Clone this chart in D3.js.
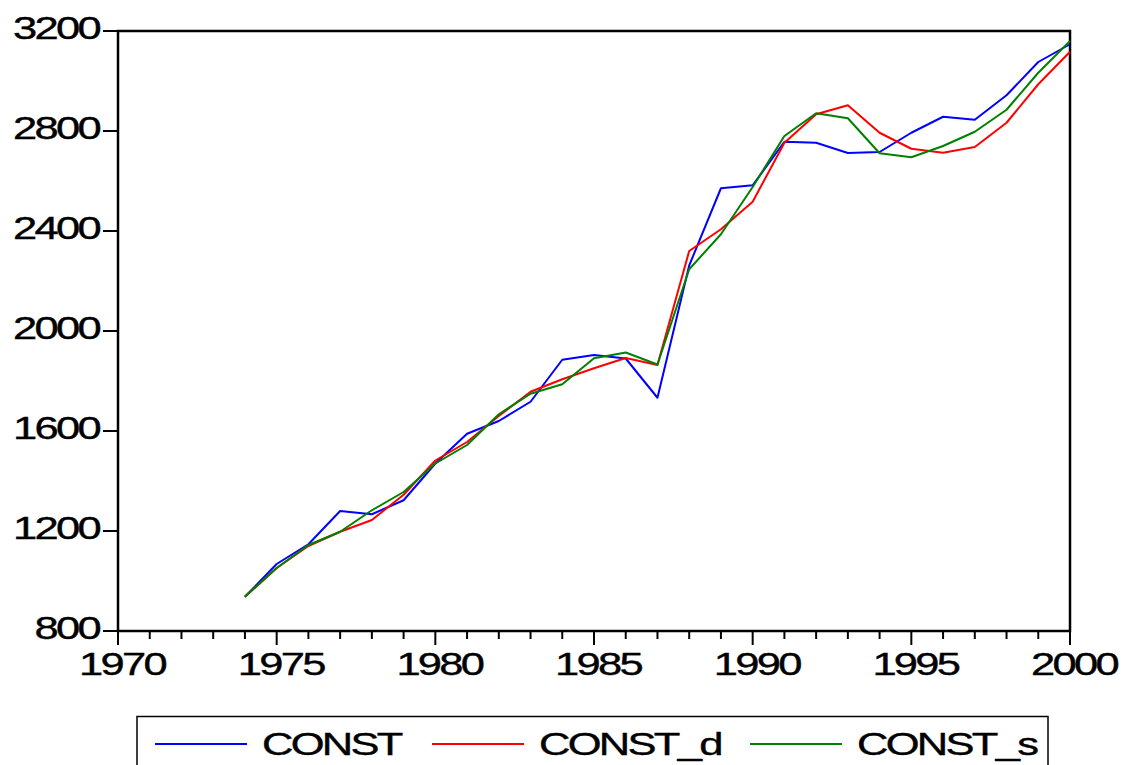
<!DOCTYPE html>
<html>
<head>
<meta charset="utf-8">
<script src="https://cdn.jsdelivr.net/npm/d3@7"></script>
<style>
  body { margin: 0; background: #fff; }
  text { font-family: "Liberation Sans", Arial, sans-serif; fill: #000; stroke: #000; stroke-width: 0.4px; letter-spacing: -2px; }
</style>
</head>
<body>
<div id="vis"></div>
<script>
// data
const years = [1974, 1975, 1976, 1977, 1978, 1979, 1980, 1981, 1982, 1983, 1984, 1985, 1986, 1987,
               1988, 1989, 1990, 1991, 1992, 1993, 1994, 1995, 1996, 1997, 1998, 1999, 2000];
const constVals = [937, 1068, 1147, 1280, 1267, 1323, 1470, 1589, 1640, 1717, 1885, 1904, 1890, 1733,
                   2262, 2571, 2583, 2757, 2753, 2712, 2716, 2793, 2857, 2845, 2943, 3076, 3147];
const constD = [937, 1052, 1140, 1197, 1244, 1345, 1482, 1556, 1660, 1757, 1807, 1851, 1892, 1864,
                2320, 2407, 2517, 2753, 2867, 2903, 2793, 2729, 2713, 2736, 2833, 2987, 3117];
const constS = [937, 1052, 1144, 1197, 1283, 1356, 1470, 1544, 1667, 1749, 1787, 1891, 1914, 1866,
                2247, 2387, 2576, 2780, 2871, 2851, 2711, 2695, 2740, 2797, 2885, 3033, 3160];
const seriesNames = ['CONST', 'CONST_d', 'CONST_s'];
const seriesColors = ['#0000ff', '#ff0000', '#008000'];
const yTicks = [800, 1200, 1600, 2000, 2400, 2800, 3200];
const xMajor = [1970, 1975, 1980, 1985, 1990, 1995, 2000];

// layout
const margin = { top: 31, right: 52, bottom: 134, left: 118 };
const width = 1122 - margin.left - margin.right;
const height = 765 - margin.top - margin.bottom;
const stretch = 1.36;

const svgRoot = d3.select('#vis')
    .append('svg')
    .attr('width', 1122)
    .attr('height', 765);

const svg = svgRoot.append('g')
    .attr('transform', `translate(${margin.left},${margin.top})`);

// scales
const xScale = d3.scaleLinear()
    .domain([1970, 2000])
    .range([0, width]);

const yScale = d3.scaleLinear()
    .domain([800, 3200])
    .range([height, 0]);

// frame
svg.append('rect')
    .attr('x', 0).attr('y', 0)
    .attr('width', width).attr('height', height)
    .attr('fill', 'none')
    .attr('stroke', '#000')
    .attr('stroke-width', 2.5);

// y axis ticks + labels
const yAxis = svg.append('g').attr('class', 'y-axis');
yAxis.selectAll('line')
    .data(yTicks)
    .join('line')
    .attr('x1', -15).attr('x2', 0)
    .attr('y1', d => yScale(d)).attr('y2', d => yScale(d))
    .attr('stroke', '#000').attr('stroke-width', 2);
yAxis.selectAll('text')
    .data(yTicks)
    .join('text')
    .attr('transform', d => `translate(-19,${yScale(d) + 7.5}) scale(${stretch},1)`)
    .attr('text-anchor', 'end')
    .style('font-size', '32px')
    .text(d => d);

// x axis ticks (yearly) + labels
const xAxis = svg.append('g').attr('class', 'x-axis').attr('transform', `translate(0,${height})`);
xAxis.selectAll('line')
    .data(d3.range(1970, 2001))
    .join('line')
    .attr('x1', d => xScale(d)).attr('x2', d => xScale(d))
    .attr('y1', 0)
    .attr('y2', d => d % 5 === 0 ? 14 : 8)
    .attr('stroke', '#000').attr('stroke-width', 2);
xAxis.selectAll('text')
    .data(xMajor)
    .join('text')
    .attr('transform', d => `translate(${xScale(d) + 4},44) scale(${stretch},1)`)
    .attr('text-anchor', 'middle')
    .style('font-size', '32px')
    .text(d => d);

// lines
const allSeries = [constVals, constD, constS];
const line = d3.line()
    .x((d, i) => xScale(years[i]))
    .y(d => yScale(d));

svg.selectAll('.series')
    .data(allSeries)
    .join('path')
    .attr('class', 'series')
    .attr('d', d => line(d))
    .attr('fill', 'none')
    .attr('stroke', (d, i) => seriesColors[i])
    .attr('stroke-width', 2)
    .attr('stroke-linejoin', 'round');

// legend
const legend = svgRoot.append('g').attr('class', 'legend');
legend.append('rect')
    .attr('x', 137).attr('y', 716.5)
    .attr('width', 911).attr('height', 80)
    .attr('fill', 'none')
    .attr('stroke', '#000')
    .attr('stroke-width', 1.5);

const legendX = [155, 432, 750];
const items = legend.selectAll('.item')
    .data(seriesNames)
    .join('g')
    .attr('class', 'item')
    .attr('transform', (d, i) => `translate(${legendX[i]},744)`);
items.append('line')
    .attr('x1', 0).attr('x2', 92)
    .attr('stroke', (d, i) => seriesColors[i])
    .attr('stroke-width', 2);
items.append('text')
    .attr('transform', `translate(107,11) scale(${stretch},1)`)
    .style('font-size', '32px')
    .text(d => d);
</script>
</body>
</html>
